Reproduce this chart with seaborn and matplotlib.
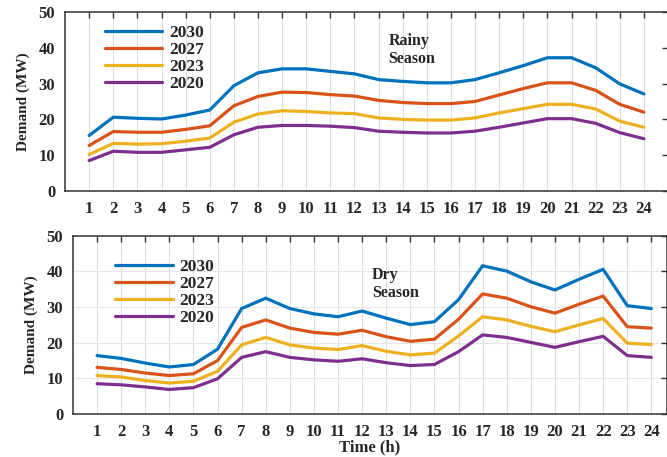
import pandas as pd
import seaborn as sns
import matplotlib.pyplot as plt

# hourly demand (MW)
hours = list(range(1, 25))
years = ["2030", "2027", "2023", "2020"]

rainy_2030 = [15.5, 20.6, 20.3, 20.1, 21.2, 22.6, 29.4, 33.0, 34.1, 34.1, 33.4, 32.7,
              31.1, 30.6, 30.2, 30.2, 31.1, 33.0, 35.0, 37.2, 37.2, 34.4, 29.9, 27.1]
rainy_2027 = [12.7, 16.6, 16.4, 16.4, 17.2, 18.2, 23.8, 26.4, 27.6, 27.5, 26.9, 26.5,
              25.3, 24.7, 24.4, 24.4, 25.0, 26.8, 28.6, 30.2, 30.2, 28.1, 24.2, 22.0]
rainy_2023 = [10.2, 13.3, 13.1, 13.2, 13.9, 14.8, 19.2, 21.5, 22.4, 22.2, 21.8, 21.6,
              20.4, 20.0, 19.8, 19.8, 20.4, 21.8, 23.0, 24.2, 24.2, 22.9, 19.5, 17.8]
rainy_2020 = [8.5, 11.1, 10.8, 10.8, 11.5, 12.2, 15.7, 17.8, 18.3, 18.3, 18.1, 17.7,
              16.7, 16.4, 16.2, 16.2, 16.7, 17.8, 19.0, 20.2, 20.2, 18.9, 16.3, 14.6]

dry_2030 = [16.4, 15.6, 14.3, 13.2, 13.9, 18.2, 29.6, 32.5, 29.6, 28.1, 27.3, 28.9,
            26.9, 25.1, 25.9, 32.1, 41.6, 40.1, 37.1, 34.8, 37.8, 40.6, 30.4, 29.6]
dry_2027 = [13.1, 12.5, 11.5, 10.8, 11.3, 15.0, 24.3, 26.4, 24.1, 22.9, 22.4, 23.5,
            21.7, 20.4, 21.0, 26.6, 33.7, 32.5, 30.1, 28.3, 30.8, 33.1, 24.5, 24.1]
dry_2023 = [10.8, 10.4, 9.4, 8.7, 9.2, 12.0, 19.4, 21.5, 19.4, 18.5, 18.1, 19.2,
            17.6, 16.6, 17.1, 21.9, 27.3, 26.4, 24.6, 23.1, 25.0, 26.8, 19.9, 19.5]
dry_2020 = [8.5, 8.2, 7.6, 6.9, 7.4, 9.9, 15.9, 17.5, 15.9, 15.2, 14.8, 15.5,
            14.4, 13.6, 13.9, 17.5, 22.2, 21.5, 20.1, 18.7, 20.3, 21.8, 16.4, 15.9]

colors = ["#0072BD", "#D95319", "#EDB120", "#7E2F8E"]


def to_long(series):
    frames = []
    for yr, vals in zip(years, series):
        frames.append(pd.DataFrame({"hour": hours, "demand": vals, "year": yr}))
    return pd.concat(frames, ignore_index=True)


rainy = to_long([rainy_2030, rainy_2027, rainy_2023, rainy_2020])
dry = to_long([dry_2030, dry_2027, dry_2023, dry_2020])

sns.set_style("white")
plt.rcParams["font.family"] = ["Liberation Serif", "DejaVu Serif"]
plt.rcParams["font.weight"] = "bold"

fig = plt.figure(figsize=(6.67, 4.57), dpi=100)
ax1 = fig.add_axes([0.0975, 0.582, 0.904, 0.392])
ax2 = fig.add_axes([0.1094, 0.094, 0.8906, 0.39])


def style_axis(ax, xmax, hgrid):
    ax.set_xlim(0, xmax)
    ax.set_ylim(0, 50)
    ax.set_xticks(hours)
    ax.set_yticks([0, 10, 20, 30, 40, 50])
    ax.tick_params(direction="in", top=True, right=True, labelsize=12,
                   length=4, width=1.0, color="#333333", pad=7)
    for lbl in ax.get_xticklabels() + ax.get_yticklabels():
        lbl.set_fontweight("bold")
    ax.grid(True, axis="x", color="#dddddd", lw=0.8)
    if hgrid:
        ax.grid(True, axis="y", color="#e6e6e6", lw=0.8)
    for s in ax.spines.values():
        s.set_color("#333333")
        s.set_linewidth(1.1)
    ax.set_ylabel("Demand (MW)", fontsize=11, fontweight="bold", labelpad=6)
    ax.set_axisbelow(True)


for ax, df, xmax, hgrid in [(ax1, rainy, 25, False), (ax2, dry, 24.65, True)]:
    sns.lineplot(data=df, x="hour", y="demand", hue="year", hue_order=years,
                 palette=colors, linewidth=2.3, ax=ax)
    style_axis(ax, xmax, hgrid)
    leg = ax.legend(loc="upper left", frameon=False, fontsize=12.5,
                    handlelength=3.3, handletextpad=0.4, labelspacing=0.05,
                    bbox_to_anchor=(0.04, 1.015) if ax is ax1 else (0.045, 0.96))
    for t in leg.get_texts():
        t.set_fontweight("bold")

ax1.set_xlabel("")
ax2.set_xlabel("Time (h)", fontsize=12, fontweight="bold", labelpad=0)

ax1.text(13.4, 39.4, "Rainy\nSeason", fontsize=11.5, fontweight="bold",
         va="center", linespacing=1.15)
ax2.text(12.4, 36.5, "Dry\nSeason", fontsize=11.5, fontweight="bold",
         va="center", linespacing=1.15)

fig.savefig("out.png", dpi=100)
